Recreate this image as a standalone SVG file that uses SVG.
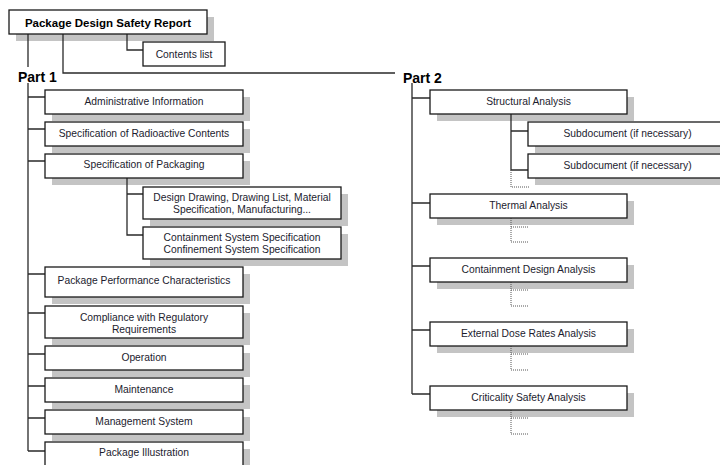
<svg xmlns="http://www.w3.org/2000/svg" width="720" height="465" viewBox="0 0 720 465">
<style>
.box{fill:#fff;stroke:#1a1a1a;stroke-width:1.3}
.sh{fill:#c4c4c4}
.t{font-family:"Liberation Sans",Arial,sans-serif;font-size:10.3px;fill:#1c1c2e;text-anchor:middle}
.tb{font-family:"Liberation Sans",Arial,sans-serif;font-weight:bold;fill:#000}
.ln{fill:none;stroke:#2a2a2a;stroke-width:1.3}
.dt{fill:none;stroke:#555;stroke-width:1;stroke-dasharray:1,1}
</style>
<rect width="720" height="465" fill="#fff"/>
<g id="shadows">
<rect class="sh" x="16" y="17" width="198" height="24"/>
<rect class="sh" x="52" y="97" width="198" height="24"/>
<rect class="sh" x="52" y="129" width="198" height="24"/>
<rect class="sh" x="52" y="161" width="198" height="24"/>
<rect class="sh" x="150" y="194" width="198" height="32"/>
<rect class="sh" x="150" y="234" width="198" height="32"/>
<rect class="sh" x="52" y="274" width="198" height="30"/>
<rect class="sh" x="52" y="313" width="198" height="32"/>
<rect class="sh" x="52" y="353" width="198" height="24"/>
<rect class="sh" x="52" y="385" width="198" height="24"/>
<rect class="sh" x="52" y="417" width="198" height="24"/>
<rect class="sh" x="52" y="449" width="198" height="24"/>
<rect class="sh" x="437" y="97" width="197" height="24"/>
<rect class="sh" x="535" y="129" width="199" height="24"/>
<rect class="sh" x="535" y="161" width="199" height="24"/>
<rect class="sh" x="437" y="201" width="197" height="24"/>
<rect class="sh" x="437" y="265" width="197" height="24"/>
<rect class="sh" x="437" y="329" width="197" height="24"/>
<rect class="sh" x="437" y="393" width="197" height="24"/>
</g>
<g id="connectors">
<path class="ln" d="M28 34V67M28 83V451M28 97H45M28 129H45M28 161H45M28 274H45M28 313H45M28 354H45M28 386H45M28 418H45M28 451H45"/>
<path class="ln" d="M127 34V50H143"/>
<path class="ln" d="M63 34V73H395"/>
<path class="ln" d="M127 178V235H143M127 194H143"/>
<path class="ln" d="M412 83V394M412 98H430M412 203H430M412 266H430M412 330H430M412 394H430"/>
<path class="ln" d="M511 114V170H528M511 131H528"/>
<path class="dt" d="M511 170V187H529"/>
<path class="dt" d="M511 218V242H529M511 227H529"/>
<path class="dt" d="M511 282V306H529M511 290H529"/>
<path class="dt" d="M511 346V370H529M511 354H529"/>
<path class="dt" d="M511 410V434H529M511 418H529"/>
</g>
<g id="title"><rect class="box" x="9" y="10" width="198" height="24"/><text class="tb" x="108" y="27" font-size="11.5" text-anchor="middle">Package Design Safety Report</text></g>
<g id="contents"><rect class="box" x="143" y="42" width="82" height="24"/><text class="t" x="184" y="57.5">Contents list</text></g>
<g id="part1"><text class="tb" x="18" y="82" font-size="14">Part 1</text></g>
<g id="part2"><text class="tb" x="403" y="83" font-size="14">Part 2</text></g>
<g id="admin"><rect class="box" x="45" y="90" width="198" height="24"/><text class="t" x="144" y="104.5">Administrative Information</text></g>
<g id="radio"><rect class="box" x="45" y="122" width="198" height="24"/><text class="t" x="144" y="136.5">Specification of Radioactive Contents</text></g>
<g id="packaging"><rect class="box" x="45" y="154" width="198" height="24"/><text class="t" x="144" y="168">Specification of Packaging</text></g>
<g id="design"><rect class="box" x="143" y="187" width="198" height="32"/><text class="t" x="242" y="201">Design Drawing, Drawing List, Material</text><text class="t" x="242" y="213">Specification, Manufacturing...</text></g>
<g id="containment"><rect class="box" x="143" y="227" width="198" height="32"/><text class="t" x="242" y="241">Containment System Specification</text><text class="t" x="242" y="253">Confinement System Specification</text></g>
<g id="performance"><rect class="box" x="45" y="267" width="198" height="30"/><text class="t" x="144" y="284">Package Performance Characteristics</text></g>
<g id="compliance"><rect class="box" x="45" y="306" width="198" height="32"/><text class="t" x="144" y="320.5">Compliance with Regulatory</text><text class="t" x="144" y="332.5">Requirements</text></g>
<g id="operation"><rect class="box" x="45" y="346" width="198" height="24"/><text class="t" x="144" y="361">Operation</text></g>
<g id="maintenance"><rect class="box" x="45" y="378" width="198" height="24"/><text class="t" x="144" y="392.5">Maintenance</text></g>
<g id="management"><rect class="box" x="45" y="410" width="198" height="24"/><text class="t" x="144" y="424.5">Management System</text></g>
<g id="illustration"><rect class="box" x="45" y="442" width="198" height="24"/><text class="t" x="144" y="456">Package Illustration</text></g>
<g id="structural"><rect class="box" x="430" y="90" width="197" height="24"/><text class="t" x="528.5" y="104.5">Structural Analysis</text></g>
<g id="subdoc1"><rect class="box" x="528" y="122" width="199" height="24"/><text class="t" x="627.5" y="136.5">Subdocument (if necessary)</text></g>
<g id="subdoc2"><rect class="box" x="528" y="154" width="199" height="24"/><text class="t" x="627.5" y="168.5">Subdocument (if necessary)</text></g>
<g id="thermal"><rect class="box" x="430" y="194" width="197" height="24"/><text class="t" x="528.5" y="208.5">Thermal Analysis</text></g>
<g id="contdesign"><rect class="box" x="430" y="258" width="197" height="24"/><text class="t" x="528.5" y="272.5">Containment Design Analysis</text></g>
<g id="dose"><rect class="box" x="430" y="322" width="197" height="24"/><text class="t" x="528.5" y="336.5">External Dose Rates Analysis</text></g>
<g id="criticality"><rect class="box" x="430" y="386" width="197" height="24"/><text class="t" x="528.5" y="400.5">Criticality Safety Analysis</text></g>
</svg>
